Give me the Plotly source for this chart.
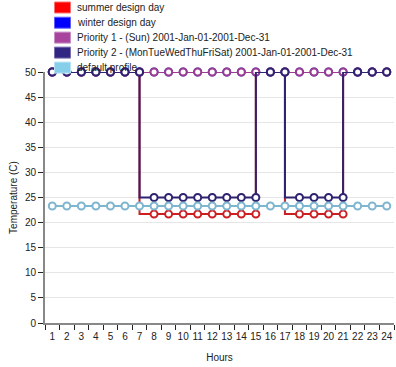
import plotly.graph_objects as go

hours = [1, 2, 3, 4, 5, 6, 7, 8, 9, 10, 11, 12, 13, 14, 15, 16, 17, 18, 19, 20, 21, 22, 23, 24]
hour_labels = ["1", "2", "3", "4", "5", "6", "7", "8", "9", "10", "11", "12", "13", "14", "15", "16", "17", "18", "19", "20", "21", "22", "23", "24"]
series_names = [
    "summer design day",
    "winter design day",
    "Priority 1 - (Sun) 2001-Jan-01-2001-Dec-31",
    "Priority 2 - (MonTueWedThuFriSat) 2001-Jan-01-2001-Dec-31",
    "default profile",
]
summer = [50, 50, 50, 50, 50, 50, 50, 21.7, 21.7, 21.7, 21.7, 21.7, 21.7, 21.7, 21.7, 50, 50, 21.7, 21.7, 21.7, 21.7, 50, 50, 50]
winter = [50, 50, 50, 50, 50, 50, 50, 50, 50, 50, 50, 50, 50, 50, 50, 50, 50, 50, 50, 50, 50, 50, 50, 50]
priority1 = [50, 50, 50, 50, 50, 50, 50, 50, 50, 50, 50, 50, 50, 50, 50, 50, 50, 50, 50, 50, 50, 50, 50, 50]
priority2 = [50, 50, 50, 50, 50, 50, 50, 25, 25, 25, 25, 25, 25, 25, 25, 50, 50, 25, 25, 25, 25, 50, 50, 50]
default = [23.3, 23.3, 23.3, 23.3, 23.3, 23.3, 23.3, 23.3, 23.3, 23.3, 23.3, 23.3, 23.3, 23.3, 23.3, 23.3, 23.3, 23.3, 23.3, 23.3, 23.3, 23.3, 23.3, 23.3]
y_ticks = [0, 5, 10, 15, 20, 25, 30, 35, 40, 45, 50]

line_colors = ["#cc1f24", "#1a1acc", "#9a3d92", "#2f2270", "#7fb6cf"]
swatch_colors = ["#ff0000", "#0000ff", "#a8449e", "#322683", "#87ceeb"]
swatch_borders = ["#ff7070", "#6060ff", "#c890c4", "#7a70b0", "#b8e2f4"]

W, H = 396, 367
L, R, T, B = 45, 2, 72, 44
pw, ph = W - L - R, H - T - B

def px_x(x):
    return (x - L) / pw

def px_y(y):
    return (H - B - y) / ph

fig = go.Figure()
for name, vals, col in zip(series_names, [summer, winter, priority1, priority2, default], line_colors):
    fig.add_trace(go.Scatter(
        x=hours, y=vals, name=name, mode="lines+markers",
        line=dict(color=col, width=2, shape="vh"),
        marker=dict(size=7, color="white", line=dict(color=col, width=2)),
        cliponaxis=False, showlegend=False,
    ))

shapes = []
annotations = []
row_y = [7.5, 22.7, 37.6, 52.6, 67.6]
for name, sc, sb, yy in zip(series_names, swatch_colors, swatch_borders, row_y):
    shapes.append(dict(type="rect", xref="paper", yref="paper",
                       x0=px_x(54.5), x1=px_x(70.5), y0=px_y(yy - 5.5), y1=px_y(yy + 5.5),
                       fillcolor=sc, line=dict(color=sb, width=1), layer="above"))
    annotations.append(dict(xref="paper", yref="paper", x=px_x(75), y=px_y(yy),
                            xanchor="left", yanchor="middle", text=name, showarrow=False,
                            font=dict(size=10, color="#222")))

boundaries = [h - 0.5 for h in hours] + [hours[-1] + 0.5]

fig.update_layout(
    width=W, height=H,
    margin=dict(l=L, r=R, t=T, b=B, autoexpand=False),
    paper_bgcolor="white", plot_bgcolor="white",
    font=dict(family="Arial, Liberation Sans, sans-serif", size=10, color="#222"),
    shapes=shapes, annotations=annotations,
    xaxis=dict(
        range=[0.5, 24.5], tickmode="array", tickvals=hours, ticktext=hour_labels,
        tickangle=0, ticks="", showline=True, linecolor="#888", linewidth=2,
        showgrid=False, zeroline=False, ticklabeloverflow="allow", ticklabelstandoff=3,
        minor=dict(tickmode="array", tickvals=boundaries, ticks="outside", ticklen=5,
                   tickcolor="#222", tickwidth=1, showgrid=False),
        title=dict(text="Hours", font=dict(size=10), standoff=13),
        tickfont=dict(size=10),
    ),
    yaxis=dict(
        range=[0, 50], tickvals=y_ticks, ticks="outside", ticklen=5, tickcolor="#222",
        showline=True, linecolor="#888", linewidth=2,
        showgrid=True, gridcolor="#e6e6e6", gridwidth=1, zeroline=False,
        title=dict(text="Temperature (C)", font=dict(size=10), standoff=5),
        tickfont=dict(size=10),
    ),
)

fig.write_html(
    "out.html",
    config={"displayModeBar": False},
    post_script="document.body.style.margin='0';document.body.style.overflow='hidden';",
)
